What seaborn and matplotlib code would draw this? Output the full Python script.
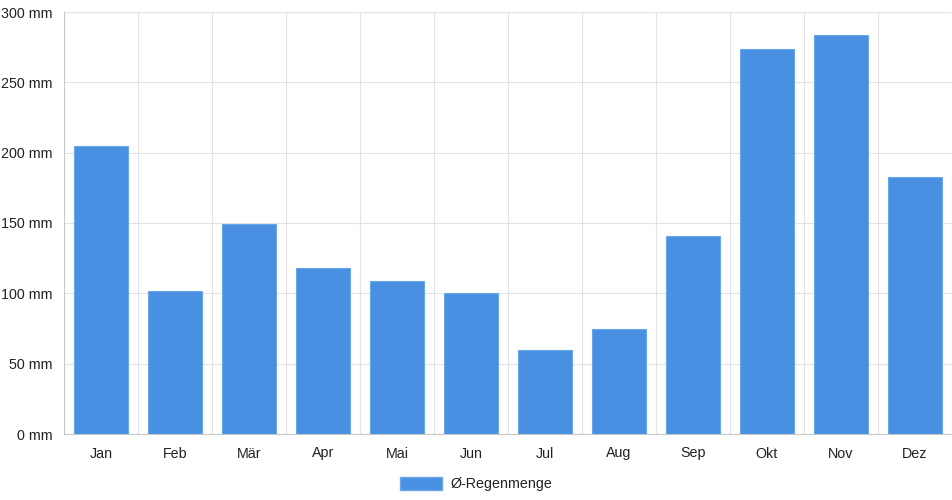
import numpy as np
import pandas as pd
import matplotlib.pyplot as plt
import seaborn as sns
from matplotlib.patches import Patch
from matplotlib.ticker import FixedLocator, FuncFormatter

months = ['Jan', 'Feb', 'Mär', 'Apr', 'Mai', 'Jun', 'Jul', 'Aug', 'Sep', 'Okt', 'Nov', 'Dez']
rain_mm = [205, 102, 149, 118, 109, 100, 60, 75, 141, 274, 284, 183]
series_label = 'Ø-Regenmenge'

df = pd.DataFrame({'Monat': months, 'Regen': rain_mm})

sns.set_style('white')
plt.rcParams['font.family'] = ['Liberation Sans', 'DejaVu Sans']

bar_color = '#4a90e2'
grid_color = '#e3e3e3'

fig = plt.figure(figsize=(9.52, 5.0), dpi=100)
ax = fig.add_axes([64 / 952, 66 / 500, 888 / 952, 422 / 500])

sns.barplot(data=df, x='Monat', y='Regen', color=bar_color, width=0.72,
            saturation=1, edgecolor='#6aa6ea', linewidth=0.8, ax=ax, zorder=3)

ax.set_xlim(-0.5, len(months) - 0.5)
ax.set_ylim(0, 300)
ax.set_yticks(np.arange(0, 301, 50))
ax.yaxis.set_major_formatter(FuncFormatter(lambda v, p: f'{int(v)} mm'))
ax.xaxis.set_minor_locator(FixedLocator(np.arange(-0.5, len(months), 1)))

ax.grid(True, axis='y', which='major', color=grid_color, linewidth=0.8, zorder=0)
ax.grid(True, axis='x', which='minor', color=grid_color, linewidth=0.8, zorder=0)
ax.set_axisbelow(True)

ax.tick_params(axis='x', which='major', length=0, pad=9, labelsize=10.3, labelcolor='#222222')
ax.tick_params(axis='x', which='minor', length=6, color=grid_color, width=0.8)
ax.tick_params(axis='y', which='major', length=6, color=grid_color, width=0.8,
               pad=2, labelsize=10.3, labelcolor='#222222')

for side in ['top', 'right']:
    ax.spines[side].set_visible(False)
for side in ['left', 'bottom']:
    ax.spines[side].set_color('#c8c8c8')
    ax.spines[side].set_linewidth(0.8)

ax.set_xlabel('')
ax.set_ylabel('')

handle = Patch(facecolor=bar_color, edgecolor='#6aa6ea', label=series_label)
fig.legend(handles=[handle], loc='lower center', bbox_to_anchor=(0.5, -0.008),
           frameon=False, fontsize=10.3, handlelength=2.9, handleheight=1.0,
           handletextpad=0.6, labelcolor='#222222')

fig.savefig('out.png', dpi=100)
